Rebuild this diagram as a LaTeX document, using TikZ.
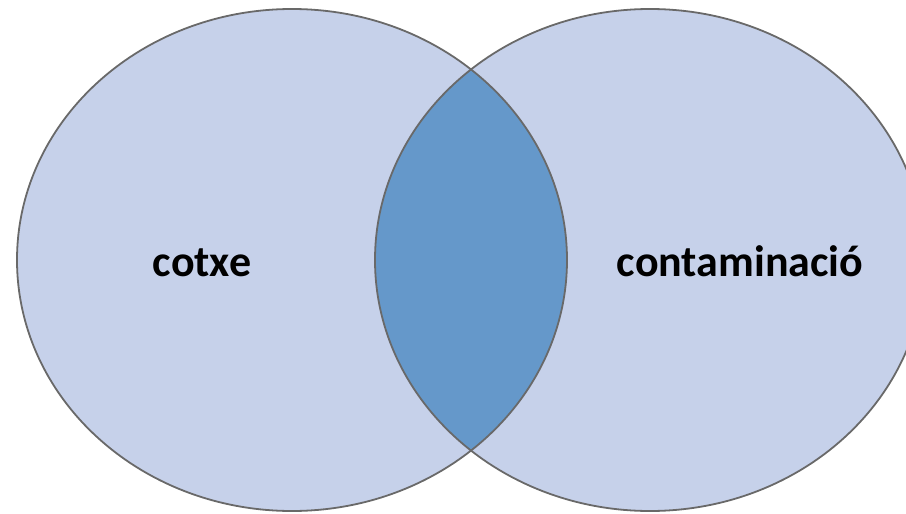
\documentclass[tikz,border=0pt]{standalone}
\usepackage{fontspec}
\setmainfont{Carlito}
\definecolor{setfill}{RGB}{198,209,234}
\definecolor{lensfill}{RGB}{101,152,202}
\definecolor{edge}{RGB}{105,105,105}
\tikzset{
  setshape/.style={fill=setfill},
  outline/.style={draw=edge, line width=1.8pt},
  setlabel/.style={font=\bfseries\fontsize{44}{50}\selectfont, text=black, inner sep=0pt, anchor=base}
}
\begin{document}
\begin{tikzpicture}[x=1pt,y=-1pt]
\useasboundingbox (0,0) rectangle (906,514);
\begin{scope}
\clip (0,0) rectangle (906,514);
\coordinate (cl) at (292,260);
\coordinate (cr) at (650,260);
\fill[setshape] (cl) ellipse [x radius=275, y radius=251];
\fill[setshape] (cr) ellipse [x radius=275, y radius=251];
\begin{scope}
\clip (cl) ellipse [x radius=275, y radius=251];
\fill[lensfill] (cr) ellipse [x radius=275, y radius=251];
\end{scope}
\draw[outline] (cl) ellipse [x radius=275, y radius=251];
\draw[outline] (cr) ellipse [x radius=275, y radius=251];
\end{scope}
\node[setlabel] (a) at (202,276) {cotxe};
\node[setlabel] (b) at (740,276) {contaminació};
\end{tikzpicture}
\end{document}
